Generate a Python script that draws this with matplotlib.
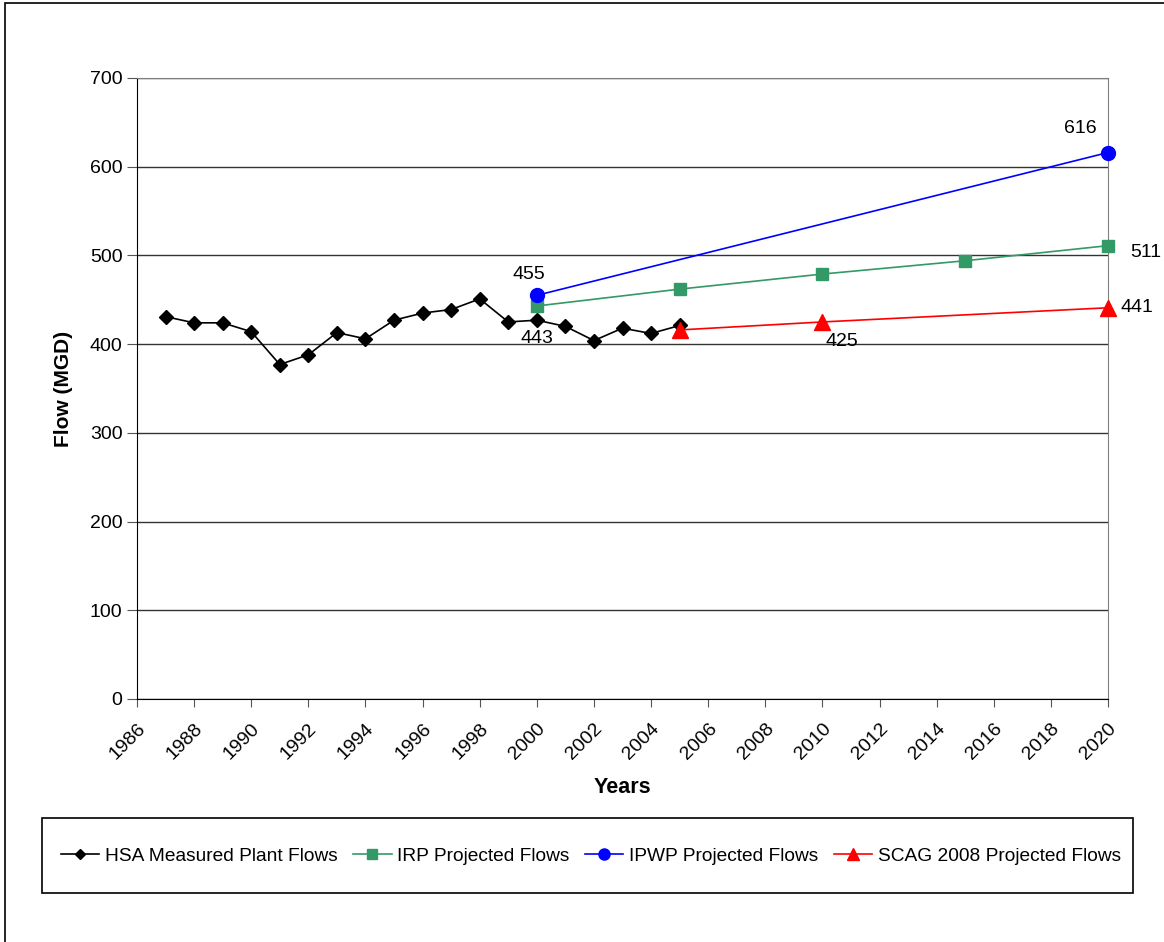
import numpy as np
import matplotlib
matplotlib.use('Agg')
from matplotlib import pyplot as plt
from matplotlib.patches import Rectangle

plt.rcParams['font.family'] = ['Liberation Sans', 'DejaVu Sans']

# measured plant flows
hsa_years = [1987, 1988, 1989, 1990, 1991, 1992, 1993, 1994, 1995, 1996,
             1997, 1998, 1999, 2000, 2001, 2002, 2003, 2004, 2005]
hsa_flows = [431, 424, 424, 414, 377, 388, 413, 406, 427, 435,
             439, 451, 425, 427, 420, 404, 418, 412, 421]

# projections
irp_years = [2000, 2005, 2010, 2015, 2020]
irp_flows = [443, 462, 479, 494, 511]
ipwp_years = [2000, 2020]
ipwp_flows = [455, 616]
scag_years = [2005, 2010, 2020]
scag_flows = [416, 425, 441]

x_ticks = list(range(1986, 2021, 2))
y_ticks = list(range(0, 701, 100))

fig = plt.figure(figsize=(11.64, 9.42), dpi=100)
ax = fig.add_axes([0.1177, 0.258, 0.8342, 0.6592])

ax.plot(hsa_years, hsa_flows, color='black', lw=1.2, marker='D', ms=7,
        label='HSA Measured Plant Flows', clip_on=False, zorder=3)
ax.plot(irp_years, irp_flows, color='#339966', lw=1.2, marker='s', ms=9,
        label='IRP Projected Flows', clip_on=False, zorder=3)
ax.plot(ipwp_years, ipwp_flows, color='#0000ff', lw=1.2, marker='o', ms=10,
        label='IPWP Projected Flows', clip_on=False, zorder=3)
ax.plot(scag_years, scag_flows, color='#ff0000', lw=1.2, marker='^', ms=11,
        label='SCAG 2008 Projected Flows', clip_on=False, zorder=3)

# data labels
lbl = dict(fontsize=14, color='black')
ax.annotate('455', (2000, 455), xytext=(-6, 9), textcoords='offset points',
            ha='center', va='bottom', **lbl)
ax.annotate('443', (2000, 443), xytext=(0, -17), textcoords='offset points',
            ha='center', va='top', **lbl)
ax.annotate('616', (2020, 616), xytext=(-20, 11), textcoords='offset points',
            ha='center', va='bottom', **lbl)
ax.annotate('511', (2020, 511), xytext=(16, -5), textcoords='offset points',
            ha='left', va='center', **lbl)
ax.annotate('425', (2010, 425), xytext=(2, -8), textcoords='offset points',
            ha='left', va='top', **lbl)
ax.annotate('441', (2020, 441), xytext=(9, 0), textcoords='offset points',
            ha='left', va='center', **lbl)

ax.set_xlim(1986, 2020)
ax.set_ylim(0, 700)
ax.set_xticks(x_ticks)
ax.set_yticks(y_ticks)
ax.set_xticklabels([str(t) for t in x_ticks], rotation=45, ha='right',
                   rotation_mode='anchor', fontsize=14)
ax.tick_params(axis='y', labelsize=14, length=7, direction='out', color='#555555')
ax.tick_params(axis='x', length=6, direction='out', color='#555555', pad=9)
ax.yaxis.grid(True, color='#333333', lw=1)
ax.set_axisbelow(True)

for s in ['top', 'right']:
    ax.spines[s].set_color('#808080')
ax.spines['left'].set_color('black')
ax.spines['bottom'].set_color('black')

ax.set_xlabel('Years', fontsize=15.5, fontweight='bold', labelpad=10)
ax.set_ylabel('Flow (MGD)', fontsize=15, fontweight='bold', labelpad=12)

leg = fig.legend(loc='center', bbox_to_anchor=(0.5077, 0.0913), ncol=4,
                 fontsize=13.8, frameon=False,
                 handlelength=2.0, handletextpad=0.3,
                 columnspacing=0.8, markerscale=0.8)

# legend box
fig.patches.append(Rectangle((42 / 1164, 1 - 893 / 942), 1091 / 1164, 75 / 942,
                             transform=fig.transFigure, fill=False,
                             edgecolor='black', lw=1.2))

# outer chart border
fig.patches.append(Rectangle((5 / 1164, -0.05), 1.2, 1.05 - 3 / 942,
                             transform=fig.transFigure, fill=False,
                             edgecolor='black', lw=1.2))

fig.savefig('out.png', dpi=100)
